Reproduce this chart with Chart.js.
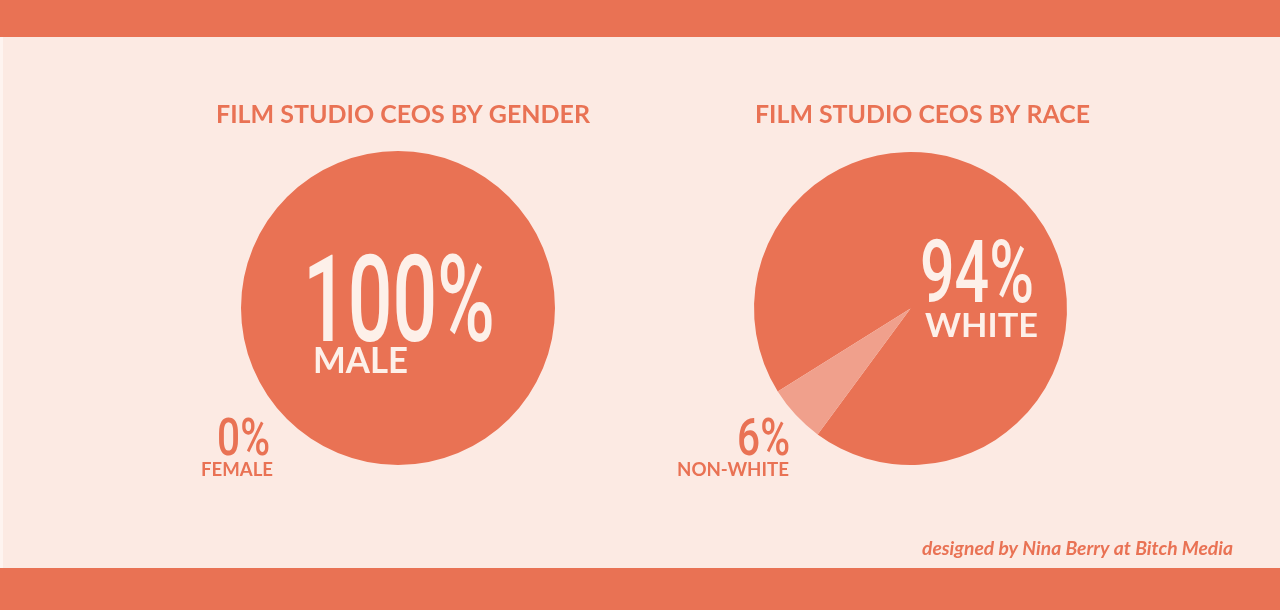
<!DOCTYPE html>
<html>
<head>
<meta charset="utf-8">
<script src="https://cdn.jsdelivr.net/npm/chart.js@4.4.0/dist/chart.umd.min.js"></script>
<style>
  html, body { margin: 0; padding: 0; }
  body { width: 1280px; height: 610px; background: #FCEAE3; position: relative; overflow: hidden; }
  .bar { position: absolute; left: 0; width: 1280px; background: #E97254; }
  #strip { position: absolute; left: 0; top: 37px; width: 3px; height: 531px; background: #FEF4F0; }
  .wrap { position: absolute; top: 0; width: 640px; height: 610px; }
</style>
</head>
<body>
<div class="bar" style="top:0;height:37px"></div>
<div id="strip"></div>
<div class="bar" style="top:568px;height:42px"></div>
<div class="wrap" style="left:0"><canvas id="c1" width="640" height="610"></canvas></div>
<div class="wrap" style="left:640px"><canvas id="c2" width="640" height="610"></canvas></div>
<script>
// ---- data ----
const genderTitle = 'FILM STUDIO CEOS BY GENDER';
const genderLabels = ['MALE', 'FEMALE'];
const genderValues = [100, 0];
const raceTitle = 'FILM STUDIO CEOS BY RACE';
const raceLabels = ['WHITE', 'NON-WHITE'];
const raceValues = [94, 6];
const credit = 'designed by Nina Berry at Bitch Media';

const ORANGE = '#E97254';
const LIGHT = '#F0A08C';
const CREAM = '#FDF0E9';

function drawFit(ctx, text, x, y, font, color, align, targetW, scaleX) {
  ctx.save();
  ctx.font = font;
  ctx.fillStyle = color;
  ctx.textBaseline = 'alphabetic';
  ctx.textAlign = 'left';
  const w = ctx.measureText(text).width;
  const s = targetW ? targetW / w : (scaleX || 1);
  const sw = w * s;
  let left = x;
  if (align === 'center') left = x - sw / 2;
  else if (align === 'right') left = x - sw;
  ctx.translate(left, y);
  ctx.scale(s, 1);
  ctx.fillText(text, 0, 0);
  ctx.restore();
}

const pctFont = (px) => '500 ' + px + 'px Roboto';
const capFont = (px) => 'bold ' + px + 'px Lato';

const labelsPlugin1 = {
  id: 'labels1',
  afterDraw(chart) {
    const ctx = chart.ctx;
    drawFit(ctx, genderTitle, 403, 123, capFont(25), ORANGE, 'center', 374);
    drawFit(ctx, genderValues[0] + '%', 303, 341, pctFont(121), CREAM, 'left', null, 0.65);
    drawFit(ctx, genderLabels[0], 313, 373, capFont(36), CREAM, 'left', 95);
    drawFit(ctx, genderValues[1] + '%', 270, 455, pctFont(52), ORANGE, 'right', null, 0.78);
    drawFit(ctx, genderLabels[1], 273, 476, capFont(18), ORANGE, 'right', 72);
  }
};
const labelsPlugin2 = {
  id: 'labels2',
  afterDraw(chart) {
    const ctx = chart.ctx;
    const ox = 640;
    drawFit(ctx, raceTitle, 922.5 - ox, 123, capFont(25), ORANGE, 'center', 335);
    drawFit(ctx, raceValues[0] + '%', 920 - ox, 302, pctFont(87), CREAM, 'left', null, 0.70);
    drawFit(ctx, raceLabels[0], 925 - ox, 337, capFont(33), CREAM, 'left', 113);
    drawFit(ctx, raceValues[1] + '%', 790 - ox, 455, pctFont(52), ORANGE, 'right', null, 0.78);
    drawFit(ctx, raceLabels[1], 789 - ox, 476, capFont(18), ORANGE, 'right', 112);
    drawFit(ctx, credit, 1233 - ox, 555, 'italic bold 19px Lato', ORANGE, 'right', 311);
  }
};

const common = {
  responsive: false,
  animation: false,
  plugins: { legend: { display: false }, tooltip: { enabled: false } },
  events: []
};

new Chart(document.getElementById('c1'), {
  type: 'pie',
  data: {
    labels: genderLabels,
    datasets: [{ data: genderValues, backgroundColor: [ORANGE, LIGHT], borderWidth: 0 }]
  },
  options: Object.assign({}, common, {
    layout: { padding: { left: 241, right: 85, top: 151, bottom: 145 } }
  }),
  plugins: [labelsPlugin1]
});

new Chart(document.getElementById('c2'), {
  type: 'pie',
  data: {
    labels: raceLabels,
    datasets: [{ data: raceValues, backgroundColor: [ORANGE, LIGHT], borderWidth: 0 }]
  },
  options: Object.assign({}, common, {
    rotation: 238,
    layout: { padding: { left: 114, right: 213, top: 152, bottom: 145 } }
  }),
  plugins: [labelsPlugin2]
});
</script>
</body>
</html>
